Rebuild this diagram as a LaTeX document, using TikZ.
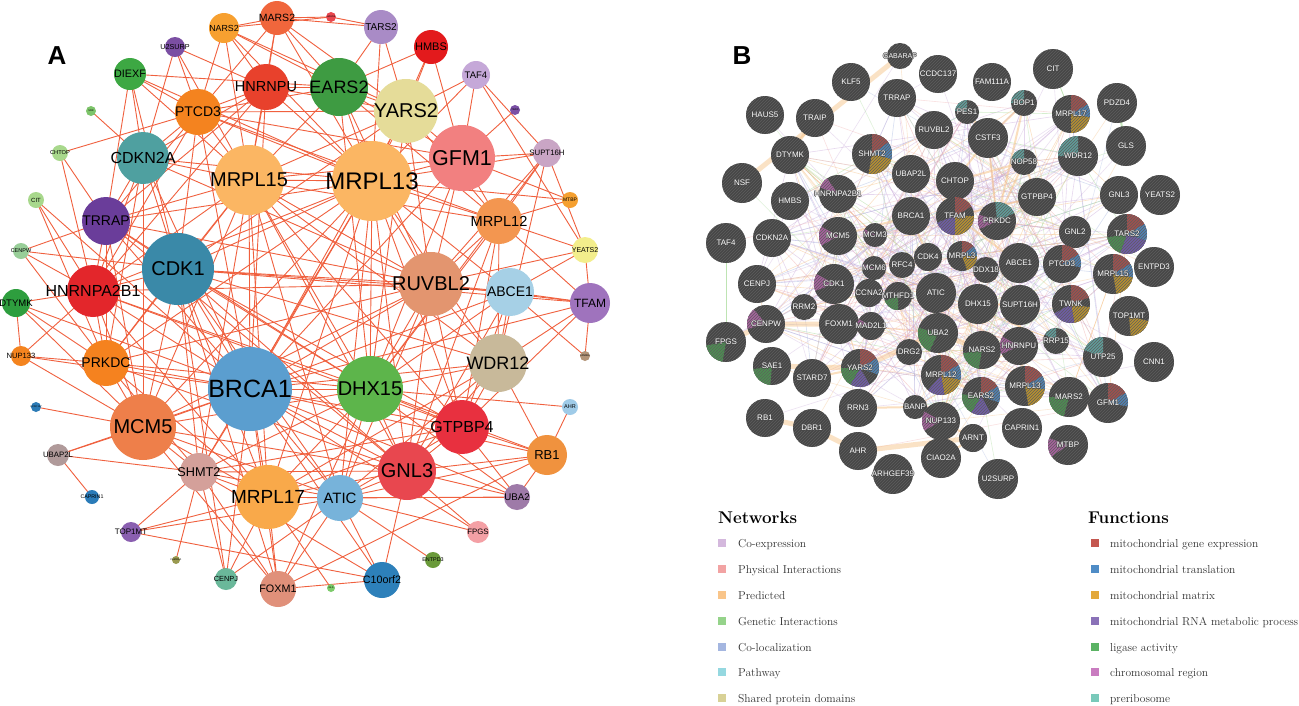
\documentclass[tikz,border=0pt]{standalone}
\usepackage{fontspec}
\newfontfamily\arialf{Liberation Sans}
\usetikzlibrary{backgrounds,patterns}
\definecolor{aedgec}{HTML}{F0603E}
\definecolor{bgray}{HTML}{474747}
\definecolor{bstripe}{HTML}{5E5E5E}
\definecolor{bandc}{HTML}{F7C68C}
\definecolor{elil}{HTML}{C9A9DA}
\definecolor{eora}{HTML}{F6C083}
\definecolor{egre}{HTML}{A3D993}
\definecolor{epin}{HTML}{F0A9A9}
\definecolor{eblu}{HTML}{A9B9E2}
\definecolor{pred}{HTML}{A24F4D}
\definecolor{pblu}{HTML}{4F83B5}
\definecolor{pgold}{HTML}{B8912F}
\definecolor{ppur}{HTML}{6F5BA8}
\definecolor{pgrn}{HTML}{4B9150}
\definecolor{ppink}{HTML}{A8619E}
\definecolor{pteal}{HTML}{5E9E9A}
\definecolor{lcoexp}{HTML}{D4B8DD}
\definecolor{lphys}{HTML}{F2A3A3}
\definecolor{lpred}{HTML}{F9C58A}
\definecolor{lgen}{HTML}{95D38A}
\definecolor{lcoloc}{HTML}{A4B6E0}
\definecolor{lpath}{HTML}{95D8E0}
\definecolor{lshared}{HTML}{D8D196}
\definecolor{fgene}{HTML}{C4574F}
\definecolor{ftrans}{HTML}{4F8CC6}
\definecolor{fmatrix}{HTML}{E3A83A}
\definecolor{frna}{HTML}{8A72B8}
\definecolor{flig}{HTML}{5BB364}
\definecolor{fchrom}{HTML}{C97CC0}
\definecolor{fprerib}{HTML}{79C9BA}
\tikzset{
  aedge/.style={draw=aedgec, line width=0.9pt},
  anodest/.style={circle, inner sep=0pt, text=black},
  bnodest/.style={circle, inner sep=0pt, fill=bgray, text=white, font=\arialf\fontsize{8}{8}\selectfont},
  bedge/.style={line width=0.6pt, opacity=0.45},
  band/.style={line width=5pt, draw=bandc, opacity=0.5, line cap=round},
  midband/.style={line width=2pt, draw=bandc, opacity=0.55},
  legsq/.style={minimum size=8pt, inner sep=0pt},
  legtxt/.style={anchor=base west, inner sep=0pt, text=black!80, font=\fontsize{11.5}{11.5}\selectfont},
  leghead/.style={anchor=base west, inner sep=0pt, font=\bfseries\fontsize{17}{17}\selectfont},
  panlab/.style={font=\arialf\bfseries\fontsize{26}{26}\selectfont}
}
\newcommand\anode[7]{\definecolor{ac#1}{HTML}{#5}\node[anodest, fill=ac#1, minimum size={2*#4pt}] (a#1) at (#2,#3) {\makebox[0pt]{\arialf\fontsize{#6}{#6}\selectfont #7}};}
\newcommand\pie[3]{\fill[#1] (path picture bounding box.center) -- ++(#2:40pt) arc[start angle=#2,end angle=#3,radius=40pt] -- cycle;}
\newcommand\bstripes{\fill[pattern=north east lines, pattern color=bstripe] (path picture bounding box.south west) rectangle (path picture bounding box.north east);}
\newcommand\outl[1]{\makebox[0pt]{\textcolor{bgray}{\makebox[0pt]{\hspace{1.4pt}#1}\makebox[0pt]{\hspace{-1.4pt}#1}\makebox[0pt]{\raisebox{0.7pt}{#1}}\makebox[0pt]{\raisebox{-0.7pt}{#1}}}\makebox[0pt]{#1}}}
\newcommand\bnode[6][]{\node[bnodest, minimum size={2*#5pt}, path picture={#1\bstripes}] (b#2) at (#3,#4) {\outl{#6}};}
\begin{document}
\begin{tikzpicture}[x=1pt,y=-1pt]
\useasboundingbox (0,0) rectangle (1299,705);
% ---------------- Panel A ----------------
\node[panlab] (labA) at (57,56) {A};
\anode{MARS2}{277}{18}{17}{F0663C}{10.5}{MARS2}
\anode{NARS2}{224}{28}{15}{F7A030}{8.8}{NARS2}
\anode{HAUS5}{331}{17}{5}{E8474F}{2.5}{HAUS5}
\anode{TARS2}{381}{27}{17}{A98BC6}{10}{TARS2}
\anode{HMBS}{431}{47}{17}{E31A1C}{11}{HMBS}
\anode{U2SURP}{175}{47}{10}{7B4FA3}{7.2}{U2SURP}
\anode{DIEXF}{130}{74}{16}{3DA843}{10.8}{DIEXF}
\anode{EARS2}{339}{87}{29}{3E9B42}{18}{EARS2}
\anode{HNRNPU}{266}{87}{23}{E8412C}{14.5}{HNRNPU}
\anode{YARS2}{406}{111}{32}{E5DC99}{20}{YARS2}
\anode{TAF4}{476}{75}{14}{C5A8D8}{9.5}{TAF4}
\anode{PTCD3}{198}{112}{23}{F4831F}{14}{PTCD3}
\anode{SRR}{91}{111}{5}{7DC46A}{2.5}{SRR}
\anode{TRAIP}{515}{110}{5}{7A4FA5}{2.5}{TRAIP}
\anode{CHTOP}{60}{153}{8}{A8D88C}{5.7}{CHTOP}
\anode{CDKN2A}{143}{158}{26}{4FA0A0}{16}{CDKN2A}
\anode{MRPL15}{249}{180}{35}{FBB663}{20}{MRPL15}
\anode{MRPL13}{372}{181}{40}{FBB663}{24}{MRPL13}
\anode{GFM1}{462}{158}{33}{F28080}{21.5}{GFM1}
\anode{SUPT16H}{547}{153}{14}{C9A5C5}{7.8}{SUPT16H}
\anode{MTBP}{570}{200}{8}{F5A030}{5}{MTBP}
\anode{CIT}{36}{200}{8}{A8D88C}{6}{CIT}
\anode{TRRAP}{106}{221}{24}{6A3D9A}{14}{TRRAP}
\anode{MRPL12}{499}{221}{23}{F39650}{14.6}{MRPL12}
\anode{CENPW}{21}{251}{8}{98CE98}{5.5}{CENPW}
\anode{YEATS2}{585}{250}{13}{F3EE8C}{7}{YEATS2}
\anode{CDK1}{178}{269}{36}{3A89A8}{20}{CDK1}
\anode{HNRNPA2B1}{93}{291}{26}{E3262B}{16}{HNRNPA2B1}
\anode{RUVBL2}{431}{284}{32}{E3956F}{20}{RUVBL2}
\anode{ABCE1}{510}{292}{24}{A6D0E6}{14}{ABCE1}
\anode{TFAM}{590}{303}{20}{9F73BD}{12}{TFAM}
\anode{DTYMK}{16}{303}{14}{2E9E3E}{9.5}{DTYMK}
\anode{NUP133}{21}{356}{10}{F4841F}{7.6}{NUP133}
\anode{PRKDC}{106}{363}{23}{F5821F}{14}{PRKDC}
\anode{FAM98A}{585}{356}{5}{B39478}{2.5}{FAM98A}
\anode{WDR12}{498}{363}{29}{C8B99A}{18}{WDR12}
\anode{BRCA1}{250}{389}{42}{5B9ECF}{25}{BRCA1}
\anode{DHX15}{370}{389}{33}{5DB54B}{20}{DHX15}
\anode{CCDC137}{36}{407}{5}{2C7BB6}{2.5}{CCDC137}
\anode{MCM5}{143}{427}{33}{EE7F4A}{20}{MCM5}
\anode{AHR}{570}{407}{8}{9FCBE8}{5.5}{AHR}
\anode{GTPBP4}{462}{427}{27}{E8303F}{16}{GTPBP4}
\anode{RB1}{547}{455}{20}{F0923E}{13}{RB1}
\anode{UBAP2L}{58}{455}{11}{B09A9A}{7.8}{UBAP2L}
\anode{SHMT2}{199}{472}{19}{D4A09A}{12.7}{SHMT2}
\anode{GNL3}{407}{471}{29}{E8474F}{20}{GNL3}
\anode{CAPRIN1}{92}{497}{7}{2A7BB8}{5.3}{CAPRIN1}
\anode{MRPL17}{268}{497}{32}{F9A94A}{19}{MRPL17}
\anode{ATIC}{340}{498}{23}{77B3DA}{15}{ATIC}
\anode{UBA2}{517}{497}{13}{9E7AA8}{9.7}{UBA2}
\anode{TOP1MT}{131}{532}{10}{8A5FB0}{8}{TOP1MT}
\anode{FPGS}{478}{532}{11}{F4A0A5}{7.8}{FPGS}
\anode{FAM111A}{176}{560}{4}{9A9A50}{2.5}{FAM111A}
\anode{CENPJ}{226}{579}{11}{6AB89A}{7.4}{CENPJ}
\anode{FOXM1}{278}{589}{18}{E0907A}{10.8}{FOXM1}
\anode{GLS}{331}{588}{4}{7CCB6A}{2.5}{GLS}
\anode{C10orf2}{382}{580}{18}{2D80BA}{10.7}{C10orf2}
\anode{ENTPD3}{433}{560}{8}{6A9A3A}{5.4}{ENTPD3}
% ---------------- Panel B ----------------
\node[panlab] (labB) at (742,56) {B};
\bnode{GABARAP}{900}{56}{13}{\fontsize{7}{7}\selectfont GABARAP}
\bnode{KLF5}{851}{82}{19}{KLF5}
\bnode{CCDC137}{938}{74}{19}{CCDC137}
\bnode{FAM111A}{992}{82}{19}{FAM111A}
\bnode{CIT}{1053}{69}{20}{CIT}
\bnode{TRRAP}{897}{98}{19}{TRRAP}
\bnode[\pie{pteal}{90}{175}]{PES1}{967}{112}{12}{PES1}
\bnode[\pie{pteal}{90}{180}]{BOP1}{1024}{103}{13}{BOP1}
\bnode[\pie{pred}{90}{30}\pie{pblu}{30}{-10}\pie{pgold}{-10}{-90}]{MRPL17}{1071}{114}{19}{MRPL17}
\bnode{PDZD4}{1117}{103}{20}{PDZD4}
\bnode{HAUS5}{765}{115}{19}{HAUS5}
\bnode{TRAIP}{815}{118}{19}{TRAIP}
\bnode{RUVBL2}{934}{130}{19}{RUVBL2}
\bnode{CSTF3}{988}{138}{20}{CSTF3}
\bnode[\pie{pteal}{90}{180}]{NOP58}{1024}{162}{13}{NOP58}
\bnode[\pie{pteal}{90}{180}]{WDR12}{1078}{156}{20}{WDR12}
\bnode{GLS}{1126}{146}{20}{GLS}
\bnode{DTYMK}{790}{155}{19}{DTYMK}
\bnode[\pie{pred}{90}{35}\pie{pblu}{35}{-15}\pie{pgold}{-15}{-100}]{SHMT2}{872}{154}{20}{SHMT2}
\bnode{UBAP2L}{911}{174}{19}{UBAP2L}
\bnode{CHTOP}{955}{181}{19}{CHTOP}
\bnode{NSF}{742}{183}{20}{NSF}
\bnode{HMBS}{790}{201}{19}{HMBS}
\bnode[\pie{ppink}{125}{160}]{HNRNPA2B1}{838}{194}{19}{HNRNPA2B1}
\bnode{GTPBP4}{1037}{197}{19}{GTPBP4}
\bnode{GNL3}{1119}{195}{19}{GNL3}
\bnode{YEATS2}{1160}{195}{20}{YEATS2}
\bnode{BRCA1}{911}{216}{19}{BRCA1}
\bnode[\pie{pred}{90}{30}\pie{pgold}{0}{-90}\pie{ppur}{-90}{-160}]{TFAM}{955}{216}{19}{TFAM}
\bnode[\pie{pteal}{95}{25}\pie{ppink}{160}{205}]{PRKDC}{997}{221}{19}{PRKDC}
\bnode{GNL2}{1075}{232}{16}{GNL2}
\bnode[\pie{pred}{90}{30}\pie{pblu}{30}{-20}\pie{ppur}{-20}{-110}\pie{pgrn}{-110}{-170}]{TARS2}{1127}{234}{20}{TARS2}
\bnode{TAF4}{726}{243}{20}{TAF4}
\bnode{CDKN2A}{772}{238}{19}{CDKN2A}
\bnode[\pie{ppink}{150}{210}]{MCM5}{838}{236}{19}{MCM5}
\bnode[\pie{ppink}{150}{172}]{MCM3}{875}{235}{12}{MCM3}
\bnode{CDK4}{928}{257}{14}{CDK4}
\bnode[\pie{pred}{90}{40}\pie{pblu}{40}{0}\pie{pgold}{0}{-70}]{MRPL3}{962}{256}{15}{MRPL3}
\bnode{DDX18}{986}{270}{13}{DDX18}
\bnode{ABCE1}{1019}{263}{20}{ABCE1}
\bnode[\pie{pred}{90}{30}\pie{pblu}{30}{-10}]{PTCD3}{1062}{264}{19}{PTCD3}
\bnode[\pie{pred}{90}{30}\pie{pblu}{30}{-10}\pie{pgold}{-10}{-80}]{MRPL15}{1113}{274}{20}{MRPL15}
\bnode{ENTPD3}{1154}{267}{20}{ENTPD3}
\bnode[\pie{ppink}{160}{185}]{MCM6}{874}{268}{12}{MCM6}
\bnode{RFC4}{902}{265}{13}{RFC4}
\bnode{CENPJ}{757}{284}{19}{CENPJ}
\bnode[\pie{ppink}{150}{200}]{CDK1}{834}{284}{20}{CDK1}
\bnode{CCNA2}{869}{293}{14}{CCNA2}
\bnode[\pie{pgrn}{200}{270}]{MTHFD1}{898}{296}{14}{MTHFD1}
\bnode{ATIC}{936}{293}{20}{ATIC}
\bnode{DHX15}{978}{304}{20}{DHX15}
\bnode{SUPT16H}{1020}{305}{20}{SUPT16H}
\bnode[\pie{pred}{90}{20}\pie{pgold}{-10}{-80}\pie{ppur}{-80}{-150}]{TWNK}{1071}{304}{19}{TWNK}
\bnode[\pie{pgold}{-15}{-85}]{TOP1MT}{1129}{316}{20}{TOP1MT}
\bnode{RRM2}{804}{307}{13}{RRM2}
\bnode[\pie{ppink}{130}{195}]{CENPW}{766}{324}{19}{CENPW}
\bnode{FOXM1}{839}{324}{20}{FOXM1}
\bnode[\pie{ppink}{150}{175}]{MAD2L1}{871}{326}{14}{MAD2L1}
\bnode[\pie{pgrn}{165}{245}]{UBA2}{938}{333}{20}{UBA2}
\bnode[\pie{pgrn}{190}{260}]{FPGS}{726}{342}{20}{FPGS}
\bnode{DRG2}{909}{352}{13}{DRG2}
\bnode[\pie{pgrn}{190}{260}]{NARS2}{982}{350}{19}{NARS2}
\bnode[\pie{ppink}{150}{205}]{HNRNPU}{1019}{346}{19}{HNRNPU}
\bnode[\pie{pteal}{90}{150}]{RRP15}{1056}{341}{13}{RRP15}
\bnode[\pie{pteal}{90}{160}]{UTP25}{1103}{357}{20}{UTP25}
\bnode{CNN1}{1154}{362}{20}{CNN1}
\bnode[\pie{pgrn}{190}{265}]{SAE1}{772}{366}{19}{SAE1}
\bnode{STARD7}{812}{378}{19}{STARD7}
\bnode[\pie{pred}{90}{30}\pie{pblu}{30}{-20}\pie{ppur}{-60}{-120}\pie{pgrn}{-120}{-180}]{YARS2}{860}{368}{19}{YARS2}
\bnode[\pie{pred}{90}{30}\pie{pblu}{30}{-15}\pie{pgold}{-15}{-80}\pie{ppur}{-80}{-130}]{MRPL12}{941}{375}{20}{MRPL12}
\bnode[\pie{pred}{90}{30}\pie{pblu}{30}{-20}\pie{ppur}{-60}{-120}\pie{pgrn}{-120}{-185}]{EARS2}{981}{396}{19}{EARS2}
\bnode[\pie{pred}{90}{30}\pie{pblu}{30}{-10}\pie{pgold}{-10}{-80}]{MRPL13}{1025}{386}{20}{MRPL13}
\bnode[\pie{pgrn}{180}{255}]{MARS2}{1069}{397}{20}{MARS2}
\bnode[\pie{pred}{90}{30}\pie{pblu}{30}{-10}]{GFM1}{1108}{403}{20}{GFM1}
\bnode{RRN3}{858}{408}{19}{RRN3}
\bnode{BANP}{915}{407}{12}{BANP}
\bnode[\pie{ppink}{150}{210}]{NUP133}{941}{421}{19}{NUP133}
\bnode{RB1}{765}{418}{19}{RB1}
\bnode{DBR1}{812}{428}{19}{DBR1}
\bnode{ARNT}{973}{438}{14}{ARNT}
\bnode{CAPRIN1}{1022}{428}{20}{CAPRIN1}
\bnode[\pie{ppink}{160}{215}]{MTBP}{1068}{445}{20}{MTBP}
\bnode{AHR}{858}{451}{19}{AHR}
\bnode{CIAO2A}{941}{458}{20}{CIAO2A}
\bnode{ARHGEF39}{893}{474}{20}{ARHGEF39}
\bnode{U2SURP}{998}{479}{20}{U2SURP}
% ---------------- Legend ----------------
\node[leghead] (hNet) at (718,523) {Networks};
\node[leghead] (hFun) at (1088,523) {Functions};
\foreach \y/\c/\t [count=\i] in {543/lcoexp/Co-expression, 569/lphys/Physical Interactions, 595/lpred/Predicted, 621/lgen/Genetic Interactions, 647/lcoloc/Co-localization, 672/lpath/Pathway, 698/lshared/Shared protein domains}{
  \node[legsq, fill=\c] (nsq\i) at (722,\y) {};
  \node[legtxt] (ntx\i) at (738,\y+4) {\t};
}
\foreach \y/\c/\t [count=\i] in {543/fgene/mitochondrial gene expression, 569/ftrans/mitochondrial translation, 595/fmatrix/mitochondrial matrix, 621/frna/mitochondrial RNA metabolic process, 647/flig/ligase activity, 672/fchrom/chromosomal region, 698/fprerib/preribosome}{
  \node[legsq, fill=\c] (fsq\i) at (1095,\y) {};
  \node[legtxt] (ftx\i) at (1110,\y+4) {\t};
}
% ---------------- Edges ----------------
\begin{pgfonlayer}{background}
\fill[white] (0,0) rectangle (1299,705);
% panel A edges
\foreach \s/\tl in {
BRCA1/{CDK1,MCM5,PRKDC,HNRNPA2B1,SHMT2,MRPL17,ATIC,GNL3,DHX15,RUVBL2,WDR12,GTPBP4,CDKN2A,TRRAP,MRPL15,MRPL13,PTCD3,UBAP2L,CENPJ,FOXM1,C10orf2,DTYMK,RB1,ABCE1,TFAM,YARS2,HNRNPU,CIT,NUP133,UBA2,FPGS,GFM1},
CDK1/{MCM5,PRKDC,HNRNPA2B1,CDKN2A,TRRAP,MRPL15,MRPL13,RUVBL2,DHX15,FOXM1,CENPW,SHMT2,MRPL17,GNL3,WDR12,DIEXF,PTCD3,YARS2,ABCE1,TFAM,ATIC,GTPBP4,CENPJ},
MRPL13/{MRPL15,EARS2,YARS2,GFM1,MRPL12,HNRNPU,PTCD3,DIEXF,RUVBL2,DHX15,MRPL17,ATIC,GNL3,TRRAP,CDKN2A,HMBS,TARS2,MARS2,NARS2,SUPT16H,MTBP,WDR12,GTPBP4,ABCE1,MCM5,PRKDC,HNRNPA2B1,SHMT2,TAF4},
MRPL15/{EARS2,YARS2,GFM1,MRPL12,HNRNPU,PTCD3,NARS2,MARS2,DIEXF,CDKN2A,TRRAP,HNRNPA2B1,PRKDC,MCM5,DHX15,RUVBL2,GNL3,MRPL17,ATIC,SHMT2,WDR12,GTPBP4,U2SURP},
DHX15/{RUVBL2,WDR12,GTPBP4,GNL3,MRPL17,ATIC,ABCE1,SHMT2,MCM5,PRKDC,HNRNPA2B1,TRRAP,GFM1,MRPL12,YARS2,EARS2,AHR,RB1,SUPT16H,UBA2,FOXM1},
RUVBL2/{ABCE1,WDR12,GTPBP4,GNL3,TRRAP,HNRNPA2B1,PRKDC,YEATS2,TFAM,SUPT16H,MRPL12,GFM1,YARS2,EARS2,CDKN2A,ATIC,MCM5},
GNL3/{GTPBP4,WDR12,ABCE1,ATIC,MRPL17,RB1,UBA2,FPGS,C10orf2,SHMT2,MCM5,PRKDC,TRRAP,MRPL12},
GTPBP4/{WDR12,ABCE1,RB1,ATIC,MRPL17,UBA2,SHMT2,HNRNPA2B1,TFAM,MRPL12},
WDR12/{ABCE1,TFAM,MRPL12,SUPT16H,ATIC,RB1,MRPL17},
ATIC/{MRPL17,SHMT2,C10orf2,ENTPD3,FPGS,UBA2,CENPJ,FOXM1,MCM5,TOP1MT,RB1},
MRPL17/{SHMT2,FOXM1,CENPJ,TOP1MT,MCM5,PRKDC,HNRNPA2B1,UBA2,GLS},
MCM5/{PRKDC,HNRNPA2B1,SHMT2,UBAP2L,NUP133,DTYMK,CCDC137,CDKN2A,TRRAP,FOXM1},
PRKDC/{HNRNPA2B1,TRRAP,CDKN2A,NUP133,DTYMK,CENPW,SHMT2,CIT},
HNRNPA2B1/{TRRAP,CDKN2A,DTYMK,CIT,CHTOP,CENPW,HNRNPU,PTCD3,NUP133},
TRRAP/{CDKN2A,CHTOP,CENPW,DIEXF,PTCD3,HNRNPU},
CDKN2A/{DIEXF,PTCD3,HNRNPU,U2SURP,SRR},
EARS2/{YARS2,GFM1,MRPL12,HNRNPU,PTCD3,MARS2,NARS2,TARS2,HMBS,DIEXF},
YARS2/{GFM1,MRPL12,HMBS,TARS2,TAF4,MARS2,NARS2,PTCD3,HNRNPU},
GFM1/{MRPL12,TAF4,TRAIP,SUPT16H,MTBP,HMBS},
MRPL12/{SUPT16H,MTBP,YEATS2,TFAM},
PTCD3/{HNRNPU,NARS2,MARS2,DIEXF,CHTOP,U2SURP,MRPL12,GFM1},
HNRNPU/{MARS2,NARS2,U2SURP},
NARS2/{MARS2,HAUS5},
MARS2/{HAUS5,TARS2},
TARS2/{HAUS5},
TAF4/{SUPT16H,YEATS2},
SUPT16H/{YEATS2},
TFAM/{ABCE1,YEATS2,FAM98A},
ABCE1/{FAM98A,YEATS2},
RB1/{AHR,UBA2,FOXM1},
SHMT2/{TOP1MT,FAM111A,CENPJ,FOXM1,UBAP2L,C10orf2},
UBAP2L/{CAPRIN1},
C10orf2/{TOP1MT,FOXM1},
DTYMK/{NUP133}}{
  \foreach \t in \tl {\draw[aedge] (a\s.center) -- (a\t.center);}
}
% panel B edges
\pgfmathsetseed{12}
\pgfmathdeclarerandomlist{bcore}{{BRCA1}{TFAM}{PRKDC}{CHTOP}{UBAP2L}{SHMT2}{CDK4}{MRPL3}{ATIC}{DHX15}{MCM5}{MCM3}{MCM6}{RFC4}{CCNA2}{MTHFD1}{CDK1}{FOXM1}{HNRNPA2B1}{RUVBL2}{CSTF3}{GTPBP4}{ABCE1}{DDX18}{SUPT16H}{HNRNPU}{UBA2}{MRPL12}{NARS2}{PTCD3}{TWNK}{WDR12}{NOP58}{MRPL13}{EARS2}{YARS2}{MAD2L1}{DRG2}{RRM2}{BOP1}{PES1}{CENPW}{CDKN2A}{HMBS}{DTYMK}{MRPL15}{MARS2}{GFM1}{RRP15}{UTP25}{NUP133}{BANP}{TRRAP}{CENPJ}{GNL2}{GNL3}{TARS2}{MRPL17}{STARD7}{RRN3}}
\pgfmathdeclarerandomlist{ball}{{GABARAP}{KLF5}{CCDC137}{FAM111A}{CIT}{TRRAP}{PES1}{BOP1}{MRPL17}{PDZD4}{HAUS5}{TRAIP}{RUVBL2}{CSTF3}{NOP58}{WDR12}{GLS}{DTYMK}{SHMT2}{UBAP2L}{CHTOP}{NSF}{HMBS}{HNRNPA2B1}{GTPBP4}{GNL3}{YEATS2}{BRCA1}{TFAM}{PRKDC}{GNL2}{TARS2}{TAF4}{CDKN2A}{MCM5}{MCM3}{CDK4}{MRPL3}{DDX18}{ABCE1}{PTCD3}{MRPL15}{ENTPD3}{MCM6}{RFC4}{CENPJ}{CDK1}{CCNA2}{MTHFD1}{ATIC}{DHX15}{SUPT16H}{TWNK}{TOP1MT}{RRM2}{CENPW}{FOXM1}{MAD2L1}{UBA2}{FPGS}{DRG2}{NARS2}{HNRNPU}{RRP15}{UTP25}{CNN1}{SAE1}{STARD7}{YARS2}{MRPL12}{EARS2}{MRPL13}{MARS2}{GFM1}{RRN3}{BANP}{NUP133}{RB1}{DBR1}{ARNT}{CAPRIN1}{MTBP}{AHR}{CIAO2A}{ARHGEF39}{U2SURP}}
\pgfmathdeclarerandomlist{ecol}{{elil}{elil}{elil}{elil}{eora}{eora}{egre}{epin}{eblu}}
\foreach \i in {1,...,320}{
  \pgfmathrandomitem{\bu}{bcore}\pgfmathrandomitem{\bv}{bcore}\pgfmathrandomitem{\ec}{ecol}
  \draw[bedge, draw=\ec] (b\bu.center) -- (b\bv.center);
}
\foreach \i in {1,...,140}{
  \pgfmathrandomitem{\bu}{bcore}\pgfmathrandomitem{\bv}{ball}\pgfmathrandomitem{\ec}{ecol}
  \draw[bedge, draw=\ec, opacity=0.35] (b\bu.center) -- (b\bv.center);
}
\draw[band] (bGABARAP.center) -- (bNSF.center);
\draw[band] (bRB1.center) -- (bDBR1.center) -- (bAHR.center) -- (bARNT.center);
\draw[band] (bSAE1.center) -- (bYARS2.center) -- (bUBA2.center) -- (bNARS2.center);
\draw[band] (bFPGS.center) -- (bCENPW.center) -- (bFOXM1.center);
\draw[band, line width=3pt] (bTRAIP.center) -- (bDTYMK.center);
\draw[band, line width=3pt] (bMRPL13.center) -- (bHNRNPU.center) -- (bSUPT16H.center);
\foreach \u/\v in {PRKDC/BOP1, PRKDC/CSTF3, CSTF3/BOP1, TFAM/GTPBP4, CHTOP/NOP58, BRCA1/MCM5, CDK1/FOXM1, ATIC/UBA2, DHX15/SUPT16H, ARNT/CIAO2A, PRKDC/NOP58, CSTF3/PES1, GTPBP4/NOP58, TFAM/ABCE1, BRCA1/CDK4, CHTOP/CSTF3, MRPL12/EARS2, STARD7/YARS2, RRN3/BANP, NUP133/ARNT}{
  \draw[midband] (b\u.center) -- (b\v.center);
}
\draw[egre, line width=2pt, opacity=0.6] (bGLS.center) -- (bPDZD4.center);
\draw[egre, line width=0.8pt, opacity=0.7] (bTAF4.center) -- (bFPGS.center);
\draw[egre, line width=0.8pt, opacity=0.7] (bCIT.center) -- (bMRPL17.center);
\draw[egre, line width=0.8pt, opacity=0.7] (bGNL3.center) -- (bTARS2.center);
\end{pgfonlayer}
\end{tikzpicture}
\end{document}
